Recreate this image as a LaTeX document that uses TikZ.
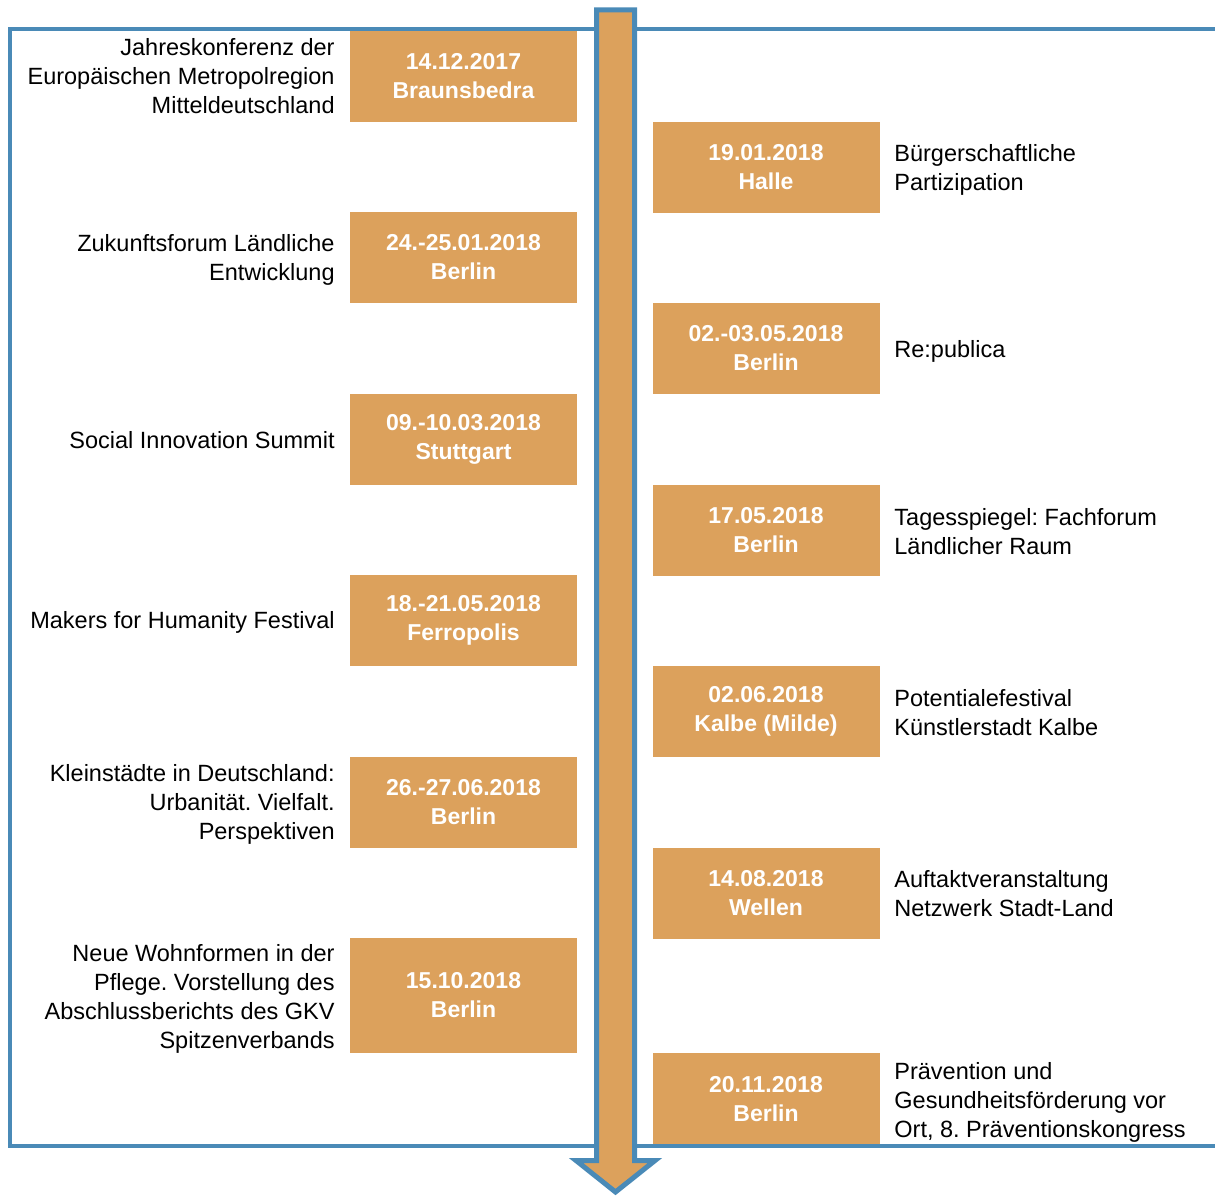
\documentclass[tikz,border=0pt]{standalone}
\usepackage{fontspec}
\setmainfont{Liberation Sans}
\frenchspacing
\definecolor{EventOrange}{HTML}{DCA15C}
\definecolor{FrameBlue}{HTML}{4A8AB7}

\begin{document}
\begin{tikzpicture}[x=0.5pt,y=-0.5pt,
  datebox/.style={fill=EventOrange,draw=none,text=white,align=center,inner sep=0pt,
    minimum width=113.5pt,minimum height=45.5pt,
    font=\fontsize{11.5}{14.5}\selectfont\bfseries},
  leftlabel/.style={anchor=east,align=right,inner sep=0pt,font=\fontsize{11.75}{14.5}\selectfont},
  rightlabel/.style={anchor=west,align=left,inner sep=0pt,font=\fontsize{11.75}{14.5}\selectfont}]
  \useasboundingbox (0,0) rectangle (1215,1197);

  % left side
  \node[datebox] (d1) at (463.5,76.5) {14.12.2017\\Braunsbedra};
  \node[leftlabel] (e1) at (335,76.5) {Jahreskonferenz der\\Europäischen Metropolregion\\Mitteldeutschland};
  \node[datebox] (d3) at (463.5,257.5) {24.-25.01.2018\\Berlin};
  \node[leftlabel] (e3) at (335,260) {Zukunftsforum Ländliche\\Entwicklung};
  \node[datebox] (d5) at (463.5,439.5) {09.-10.03.2018\\Stuttgart};
  \node[leftlabel] (e5) at (335,440.5) {Social Innovation Summit};
  \node[datebox] (d7) at (463.5,620.5) {18.-21.05.2018\\Ferropolis};
  \node[leftlabel] (e7) at (335,622.5) {Makers for Humanity Festival};
  \node[datebox] (d9) at (463.5,802.5) {26.-27.06.2018\\Berlin};
  \node[leftlabel] (e9) at (335,804.5) {Kleinstädte in Deutschland:\\Urbanität. Vielfalt.\\Perspektiven};
  \node[datebox,minimum height=57.5pt] (d11) at (463.5,995.5) {15.10.2018\\Berlin};
  \node[leftlabel] (e11) at (335,999) {Neue Wohnformen in der\\Pflege. Vorstellung des\\Abschlussberichts des GKV\\Spitzenverbands};

  % right side
  \node[datebox] (d2) at (766,167.5) {19.01.2018\\Halle};
  \node[rightlabel] (e2) at (894,170) {Bürgerschaftliche\\Partizipation};
  \node[datebox] (d4) at (766,348.5) {02.-03.05.2018\\Berlin};
  \node[rightlabel] (e4) at (894,351) {Re:publica};
  \node[datebox] (d6) at (766,530.5) {17.05.2018\\Berlin};
  \node[rightlabel] (e6) at (894,532) {Tagesspiegel: Fachforum\\Ländlicher Raum};
  \node[datebox] (d8) at (766,711.5) {02.06.2018\\Kalbe (Milde)};
  \node[rightlabel] (e8) at (894,712.5) {Potentialefestival\\Künstlerstadt Kalbe};
  \node[datebox] (d10) at (766,893.5) {14.08.2018\\Wellen};
  \node[rightlabel] (e10) at (894,894) {Auftaktveranstaltung\\Netzwerk Stadt-Land};
  \node[datebox,minimum height=46pt] (d12) at (766,1099) {20.11.2018\\Berlin};
  \node[rightlabel] (e12) at (894,1102) {Prävention und\\Gesundheitsförderung vor\\Ort, 8. Präventionskongress};

  % frame
  \draw[FrameBlue,line width=2pt] (1215,29) -- (10,29) -- (10,1145.5) -- (1215,1145.5);

  % time arrow
  \draw[FrameBlue,fill=EventOrange,line width=2.5pt,line join=miter]
    (596.5,10) -- (634.5,10) -- (634.5,1160.5) -- (655,1160.5) -- (615.5,1192)
    -- (576,1160.5) -- (596.5,1160.5) -- cycle;
\end{tikzpicture}
\end{document}
